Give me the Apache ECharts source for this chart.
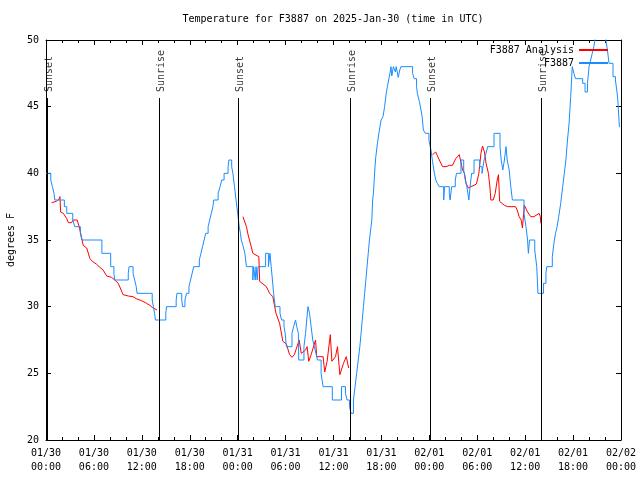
<!DOCTYPE html>
<html><head><meta charset="utf-8">
<script src="https://cdn.jsdelivr.net/npm/echarts@6/dist/echarts.min.js"></script>
<style>html,body{margin:0;padding:0;background:#fff}#c{width:640px;height:480px}</style>
</head><body><div id="c"></div>
<script>
// hours since 2025-01-30 00:00 UTC
const xTickLabels = ['01/30\n00:00','01/30\n06:00','01/30\n12:00','01/30\n18:00','01/31\n00:00','01/31\n06:00','01/31\n12:00','01/31\n18:00','02/01\n00:00','02/01\n06:00','02/01\n12:00','02/01\n18:00','02/02\n00:00'];
const sunTimes = [0.16, 14.16, 24.04, 38.1, 48.1, 62.04];
const sunLabels = ['Sunset','Sunrise','Sunset','Sunrise','Sunset','Sunrise'];

const analysis1 = [[0.7,37.8],[1.3,37.9],[1.6,38.05],[1.75,38.25],[1.83,37.1],[2.17,37.0],[2.6,36.6],[2.8,36.3],[3.2,36.3],[3.4,36.5],[3.9,36.5],[4.15,36],[4.25,35.75],[4.45,35.6],[4.66,34.6],[5.1,34.4],[5.5,33.6],[5.8,33.4],[6.3,33.2],[6.75,32.95],[7.15,32.75],[7.6,32.3],[8.2,32.2],[8.6,32],[9.05,31.75],[9.3,31.4],[9.65,30.9],[10.3,30.8],[10.9,30.75],[11.3,30.6],[11.95,30.45],[12.6,30.25],[13.0,30.1],[13.3,29.95],[13.5,29.8],[13.9,29.75]];
const analysis2 = [[24.66,36.75],[24.9,36.7],[25.1,36],[25.3,35.4],[25.7,34.5],[25.9,34],[26.65,33.75],[26.75,31.9],[27.6,31.5],[28.0,31.0],[28.4,30.75],[28.8,29.5],[29.25,28.75],[29.66,27.4],[30.1,27.2],[30.5,26.4],[30.8,26.2],[31.1,26.4],[31.7,27.5],[31.96,26.5],[32.5,26.75],[32.7,27],[32.9,25.9],[33.2,26.4],[33.75,27.5],[33.9,26.25],[34.7,26.25],[34.9,25.1],[35.2,25.9],[35.6,27.9],[35.8,25.9],[36.25,26.25],[36.5,27],[36.8,24.9],[37.25,25.75],[37.6,26.25],[37.9,25.4]];
const analysis3 = [[48.4,41.4],[48.6,41.5],[48.8,41.6],[49.25,41],[49.66,40.5],[50.1,40.5],[50.5,40.6],[50.9,40.6],[51.3,41.1],[51.75,41.4],[51.96,41.3],[52.16,40.25],[52.4,40],[52.6,39.25],[52.9,38.9],[53.2,39],[53.6,39.1],[53.9,39.2],[54.2,40],[54.46,41.5],[54.66,42.05],[54.9,41.6],[55.1,40.75],[55.4,40],[55.6,38.9],[55.7,38],[56.0,38],[56.25,38.5],[56.5,39.5],[56.66,39.9],[56.8,37.9],[57.4,37.6],[57.8,37.5],[58.8,37.5],[59.0,37.25],[59.25,36.75],[59.5,36.5],[59.66,35.9],[59.9,37.6],[60.3,37.1],[60.7,36.75],[61.1,36.75],[61.75,37],[61.9,36.75],[61.96,36.25]];

const observed = [[0,40],[0.6,39.5],[0.8,39],[1.0,38.5],[1.1,38],[2.3,37.5],[2.6,37],[3.35,36.5],[3.6,36],[4.3,35.5],[4.5,35],[7.0,34],[8.1,33],[8.5,32.5],[8.6,32],[10.3,32.5],[10.4,33],[10.9,32.5],[11.1,32],[11.3,31.5],[11.4,31],[13.3,30.5],[13.45,30],[13.6,29.5],[13.7,29],[15.0,29.5],[15.1,30],[16.3,30.5],[16.4,31],[17.0,30.5],[17.1,30],[17.4,30.5],[17.6,31],[17.9,31.5],[18.1,32],[18.3,32.5],[18.5,33],[19.2,33.5],[19.4,34],[19.6,34.5],[19.8,35],[20.0,35.5],[20.3,36],[20.5,36.5],[20.7,37],[20.9,37.5],[21.0,38],[21.55,38.5],[21.8,39],[22.0,39.5],[22.3,40],[22.8,40.5],[22.9,41],[23.25,40.5],[23.4,40],[23.6,39],[23.8,38],[24.0,37],[24.2,36],[24.35,35.5],[24.45,35],[24.7,34.5],[24.9,34],[25.0,33.5],[25.1,33],[25.9,32],[26.0,33],[26.2,32],[26.3,33],[26.45,32],[26.55,33],[27.5,34],[27.85,33],[28.05,34],[28.2,33],[28.35,32],[28.5,31],[28.7,30],[29.3,29.5],[29.5,29],[29.8,28.5],[29.95,28],[30.1,27],[30.8,28],[31.0,28.5],[31.25,29],[31.4,28.5],[31.6,28],[31.65,26],[32.3,27],[32.5,28],[32.65,29],[32.8,30],[33.0,29.5],[33.2,28.5],[33.4,27.5],[33.6,27],[33.8,26.5],[34.0,26],[34.45,25],[34.7,24],[35.85,23],[37.0,24],[37.5,23.5],[37.7,23],[38.0,22.5],[38.2,22],[38.5,23],[38.7,24],[38.9,25],[39.1,26],[39.3,27],[39.45,28],[39.6,29],[39.75,30],[39.9,31],[40.05,32],[40.2,33],[40.35,34],[40.5,35],[40.7,36],[40.8,36.5],[40.9,38],[41.0,38.5],[41.1,39.5],[41.2,40.5],[41.3,41.25],[41.5,42.25],[41.75,43.25],[41.96,44],[42.2,44.25],[42.4,45],[42.6,46],[42.75,46.5],[42.9,47],[43.1,47.6],[43.2,48],[43.3,47.3],[43.5,48],[43.75,47.6],[43.85,48],[44.1,47.2],[44.3,47.75],[44.45,48],[45.9,47.5],[46.1,47.1],[46.4,46.5],[46.5,46.0],[46.75,45.4],[46.96,44.75],[47.1,44.25],[47.25,43.25],[47.5,43],[47.95,42.5],[48.2,41.75],[48.4,40.9],[48.6,40.1],[48.8,39.5],[49.0,39.25],[49.25,39],[49.8,38],[49.9,39],[50.5,38.5],[50.6,38],[50.8,39],[51.25,39.5],[51.4,40],[51.96,41],[52.3,40.25],[52.5,39.5],[52.7,39],[52.95,38],[53.1,39],[53.3,40],[53.6,41],[54.3,40.5],[54.6,40],[54.85,41],[55.1,41.5],[55.3,42],[56.1,43],[56.85,42],[57.0,41],[57.2,40.25],[57.4,41],[57.6,42],[57.75,41],[58.0,40.25],[58.2,39],[58.4,38],[59.85,37],[60.1,36],[60.3,35],[60.4,34],[60.55,35],[61.2,34.25],[61.45,33],[61.6,31],[62.3,31.75],[62.6,32.5],[62.7,33],[63.4,33.75],[63.6,34.75],[63.8,35.5],[64.0,36],[64.2,36.75],[64.45,37.75],[64.7,39],[64.9,40],[65.1,41],[65.3,42.5],[65.5,43.75],[65.7,45.75],[65.9,48],[66.1,47.5],[66.3,47.1],[67.2,46.75],[67.5,46.1],[67.8,46.75],[68.0,48],[68.2,48.5],[68.4,49],[68.6,49.5],[68.8,50.2],[69.2,50.8],[69.8,50.5],[70.1,50],[70.3,49.25],[70.5,48.25],[71.0,47.25],[71.3,47],[71.5,46.1],[71.6,45.5],[71.8,43.5],[71.9,43.5]];

const FONT = '"DejaVu Sans Mono", "Liberation Mono", monospace';
const BLACK = '#000';
const sunLineTop = 45.65;

const analysisData = analysis1.concat([[18, '-']], analysis2, [[42, '-']], analysis3);

const tickCommon = {show: true, inside: true, length: 5, lineStyle: {color: BLACK, width: 1}};
const minorCommon = {show: true, splitNumber: 3, length: 3, lineStyle: {color: BLACK, width: 1}};

const chart = echarts.init(document.getElementById('c'), null, {renderer: 'canvas'});
chart.setOption({
  animation: false,
  backgroundColor: '#fff',
  title: {
    text: 'Temperature for F3887 on 2025-Jan-30 (time in UTC)',
    left: 333, top: 14, textAlign: 'center', padding: 0,
    textStyle: {fontFamily: FONT, fontSize: 10, fontWeight: 'normal', color: BLACK}
  },
  legend: {
    data: ['F3887 Analysis', 'F3887'],
    orient: 'vertical', align: 'right',
    right: 31, top: 44, padding: 0,
    itemWidth: 29, itemHeight: 13, itemGap: 1,
    itemStyle: {opacity: 0},
    textStyle: {fontFamily: FONT, fontSize: 10, color: BLACK, lineHeight: 12}
  },
  grid: {left: 46, right: 19, top: 40, bottom: 40, containLabel: false, outerBoundsMode: 'none'},
  xAxis: [{
    type: 'value', min: 0, max: 72, interval: 6, position: 'bottom',
    axisLine: {show: true, onZero: false, lineStyle: {color: BLACK, width: 1}},
    axisTick: tickCommon, minorTick: minorCommon,
    splitLine: {show: false},
    axisLabel: {
      fontFamily: FONT, fontSize: 10, color: BLACK, lineHeight: 14, margin: 6,
      formatter: v => xTickLabels[Math.round(v / 6)]
    }
  }, {
    type: 'value', min: 0, max: 72, interval: 6, position: 'top',
    axisLine: {show: true, onZero: false, lineStyle: {color: BLACK, width: 1}},
    axisTick: tickCommon, minorTick: minorCommon,
    splitLine: {show: false}, axisLabel: {show: false}
  }],
  yAxis: [{
    type: 'value', min: 20, max: 50, interval: 5, position: 'left',
    name: 'degrees F', nameLocation: 'middle', nameGap: 30, nameRotate: 90,
    nameTextStyle: {fontFamily: FONT, fontSize: 10, color: BLACK},
    axisLine: {show: true, onZero: false, lineStyle: {color: BLACK, width: 1}},
    axisTick: tickCommon,
    splitLine: {show: false},
    axisLabel: {fontFamily: FONT, fontSize: 10, color: BLACK, margin: 7}
  }, {
    type: 'value', min: 20, max: 50, interval: 5, position: 'right',
    axisLine: {show: true, onZero: false, lineStyle: {color: BLACK, width: 1}},
    axisTick: tickCommon,
    splitLine: {show: false}, axisLabel: {show: false}
  }],
  series: [{
    name: 'F3887 Analysis', type: 'line', data: analysisData,
    symbol: 'none', connectNulls: false, clip: true,
    lineStyle: {color: '#ff0000', width: 1}, itemStyle: {color: '#ff0000'},
    markLine: {
      silent: true, symbol: 'none', animation: false,
      label: {show: false},
      lineStyle: {color: BLACK, width: 1, type: 'solid'},
      data: sunTimes.map(t => [{coord: [t, sunLineTop]}, {coord: [t, 20]}])
    }
  }, {
    name: 'F3887', type: 'line', data: observed, step: 'end',
    symbol: 'none', clip: true,
    lineStyle: {color: '#1a8cff', width: 1}, itemStyle: {color: '#1a8cff'}
  }, {
    type: 'scatter', symbolSize: 0, silent: true,
    data: sunTimes.map((t, i) => ({value: [t, sunLineTop], name: sunLabels[i]})),
    label: {
      show: true, position: 'top', distance: 6, rotate: 90,
      align: 'left', verticalAlign: 'middle', offset: [0, 2],
      formatter: p => p.name,
      fontFamily: FONT, fontSize: 10, color: BLACK
    }
  }]
});
</script>
</body></html>
